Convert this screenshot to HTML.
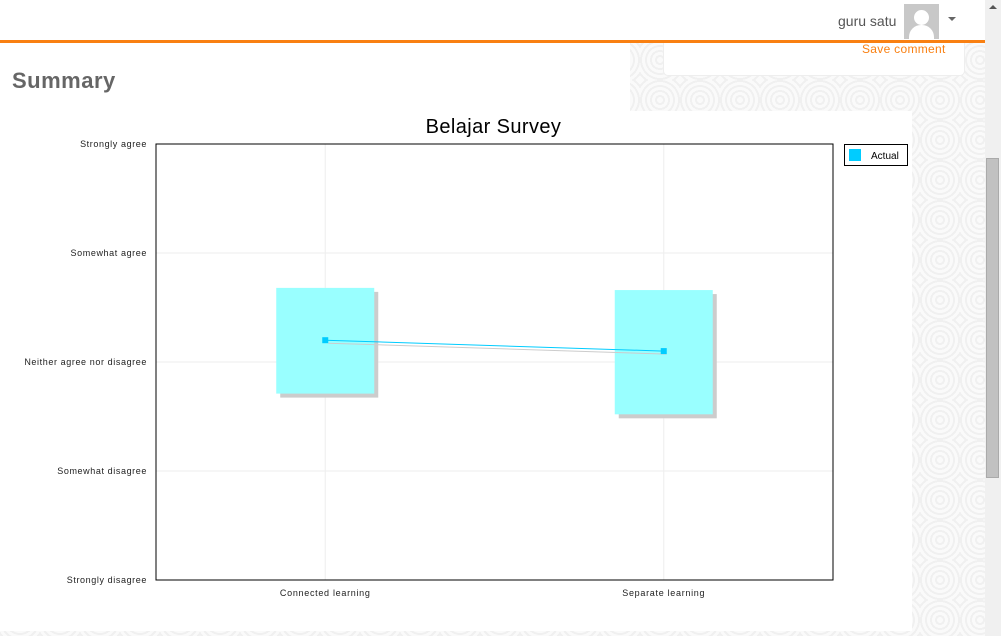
<!DOCTYPE html>
<html><head><meta charset="utf-8"><style>
body{margin:0;width:1001px;height:636px;overflow:hidden;background:#f6f6f6;font-family:"Liberation Sans",sans-serif;position:relative}
</style></head><body>
<div style="position:absolute;left:0;top:0;width:985px;height:636px;background:repeating-radial-gradient(circle at 20px 20px,#fafafa 0 3px,#f0f0f0 3px 5px);background-size:40px 40px"></div>
<div style="position:absolute;left:0;top:0;width:985px;height:40px;background:#fff;border-bottom:3px solid #f98012"></div>
<div style="position:absolute;left:838px;top:13px;font-size:14px;color:#555">guru satu</div>
<div style="position:absolute;left:904px;top:4px;width:35px;height:35px;background:#c8c8c8;overflow:hidden"><div style="position:absolute;left:10px;top:6px;width:15px;height:15px;border-radius:50%;background:#fff"></div><div style="position:absolute;left:5px;top:21px;width:25px;height:20px;border-radius:12px 12px 0 0;background:#fff"></div></div>
<div style="position:absolute;left:948px;top:17px;width:0;height:0;border-left:4px solid transparent;border-right:4px solid transparent;border-top:4px solid #666"></div>
<div style="position:absolute;left:663px;top:43px;width:300px;height:32px;background:#fff;border:1px solid #eee;border-top:none;border-radius:0 0 5px 5px"></div>
<div style="position:absolute;left:862px;top:42px;font-size:12px;color:#f98012;letter-spacing:0.3px">Save comment</div>
<div style="position:absolute;left:0;top:43px;width:630px;height:68px;background:#fff"></div>
<div style="position:absolute;left:0;top:111px;width:912px;height:520px;background:#fff"></div>
<div style="position:absolute;left:12px;top:68px;font-size:22px;font-weight:bold;color:#666;letter-spacing:0.5px">Summary</div>
<div style="position:absolute;left:985px;top:0;width:16px;height:636px;background:#f0f0f0"><div style="position:absolute;left:4px;top:5px;border-left:4px solid transparent;border-right:4px solid transparent;border-bottom:4px solid #555"></div><div style="position:absolute;left:1px;top:158px;width:13px;height:320px;background:#c1c1c1;border:1px solid #aaa;box-sizing:border-box"></div></div>
<svg id="chart" width="1001" height="636" style="position:absolute;left:0;top:0" font-family="Liberation Sans, sans-serif"></svg>
<script>
const categories=["Connected learning","Separate learning"];
const actualValues=[3.20,3.10];
const rangeHigh=[3.68,3.66];
const rangeLow=[2.71,2.52];
const yLabels=["Strongly disagree","Somewhat disagree","Neither agree nor disagree","Somewhat agree","Strongly agree"];
const NS="http://www.w3.org/2000/svg";
const svg=document.getElementById('chart');
const L=156,R=833,T=144,B=580;
function x(i){return L+(R-L)*(2*i+1)/(2*categories.length);}
function y(v){return B-(v-1)*(B-T)/(yLabels.length-1);}
function mk(t,a,p){const e=document.createElementNS(NS,t);for(const k in a)e.setAttribute(k,a[k]);(p||svg).appendChild(e);return e;}
let e=mk('rect',{x:L,y:T,width:R-L,height:B-T,fill:'#fff'});


yLabels.forEach((l,i)=>{const yy=y(i+1);
 e=mk('line',{x1:L,x2:R,y1:yy,y2:yy,stroke:'#eee'});
 
 
 e=mk('text',{x:L-9,y:yy+3,'font-size':9,'text-anchor':'end',fill:'#222','letter-spacing':0.6});e.textContent=l;
 
 });
categories.forEach((c,i)=>{const xx=x(i);
 e=mk('line',{x1:xx,x2:xx,y1:T,y2:B,stroke:'#eee'});
 
 
 e=mk('text',{x:xx,y:B+16,'font-size':9,'text-anchor':'middle',fill:'#222','letter-spacing':0.7});e.textContent=c;
 
 });
const bw=98;
categories.forEach((c,i)=>{const xx=x(i),y1=y(rangeHigh[i]),y2=y(rangeLow[i]);
 e=mk('rect',{x:xx-bw/2+4,y:y1+4,width:bw,height:y2-y1,fill:'#ccc'});
 
 
 e=mk('rect',{x:xx-bw/2,y:y1,width:bw,height:y2-y1,fill:'#99ffff'});
 
 });
const pts=actualValues.map((v,i)=>x(i)+','+y(v)).join(' ');
const spts=actualValues.map((v,i)=>(x(i)+3)+','+(y(v)+3)).join(' ');
e=mk('polyline',{points:spts,fill:'none',stroke:'#ccc','stroke-width':1});


e=mk('polyline',{points:pts,fill:'none',stroke:'#00ccff','stroke-width':1});


actualValues.forEach((v,i)=>{e=mk('rect',{x:x(i)-3,y:y(v)-3,width:6,height:6,fill:'#00ccff'});
 
 });
e=mk('rect',{x:L,y:T,width:R-L,height:B-T,fill:'none',stroke:'#000'});


e=mk('text',{x:(L+R)/2-1,y:133,'font-size':20,'text-anchor':'middle',fill:'#000','letter-spacing':0.4});e.textContent="Belajar Survey";


const lg=mk('g',{});


mk('rect',{x:844.5,y:144.5,width:63,height:21,fill:'#fff',stroke:'#000'},lg);
mk('rect',{x:849,y:149,width:12,height:12,fill:'#00ccff'},lg);
e=mk('text',{x:871,y:159,'font-size':10,fill:'#000'},lg);e.textContent="Actual";
</script>
</body></html>
